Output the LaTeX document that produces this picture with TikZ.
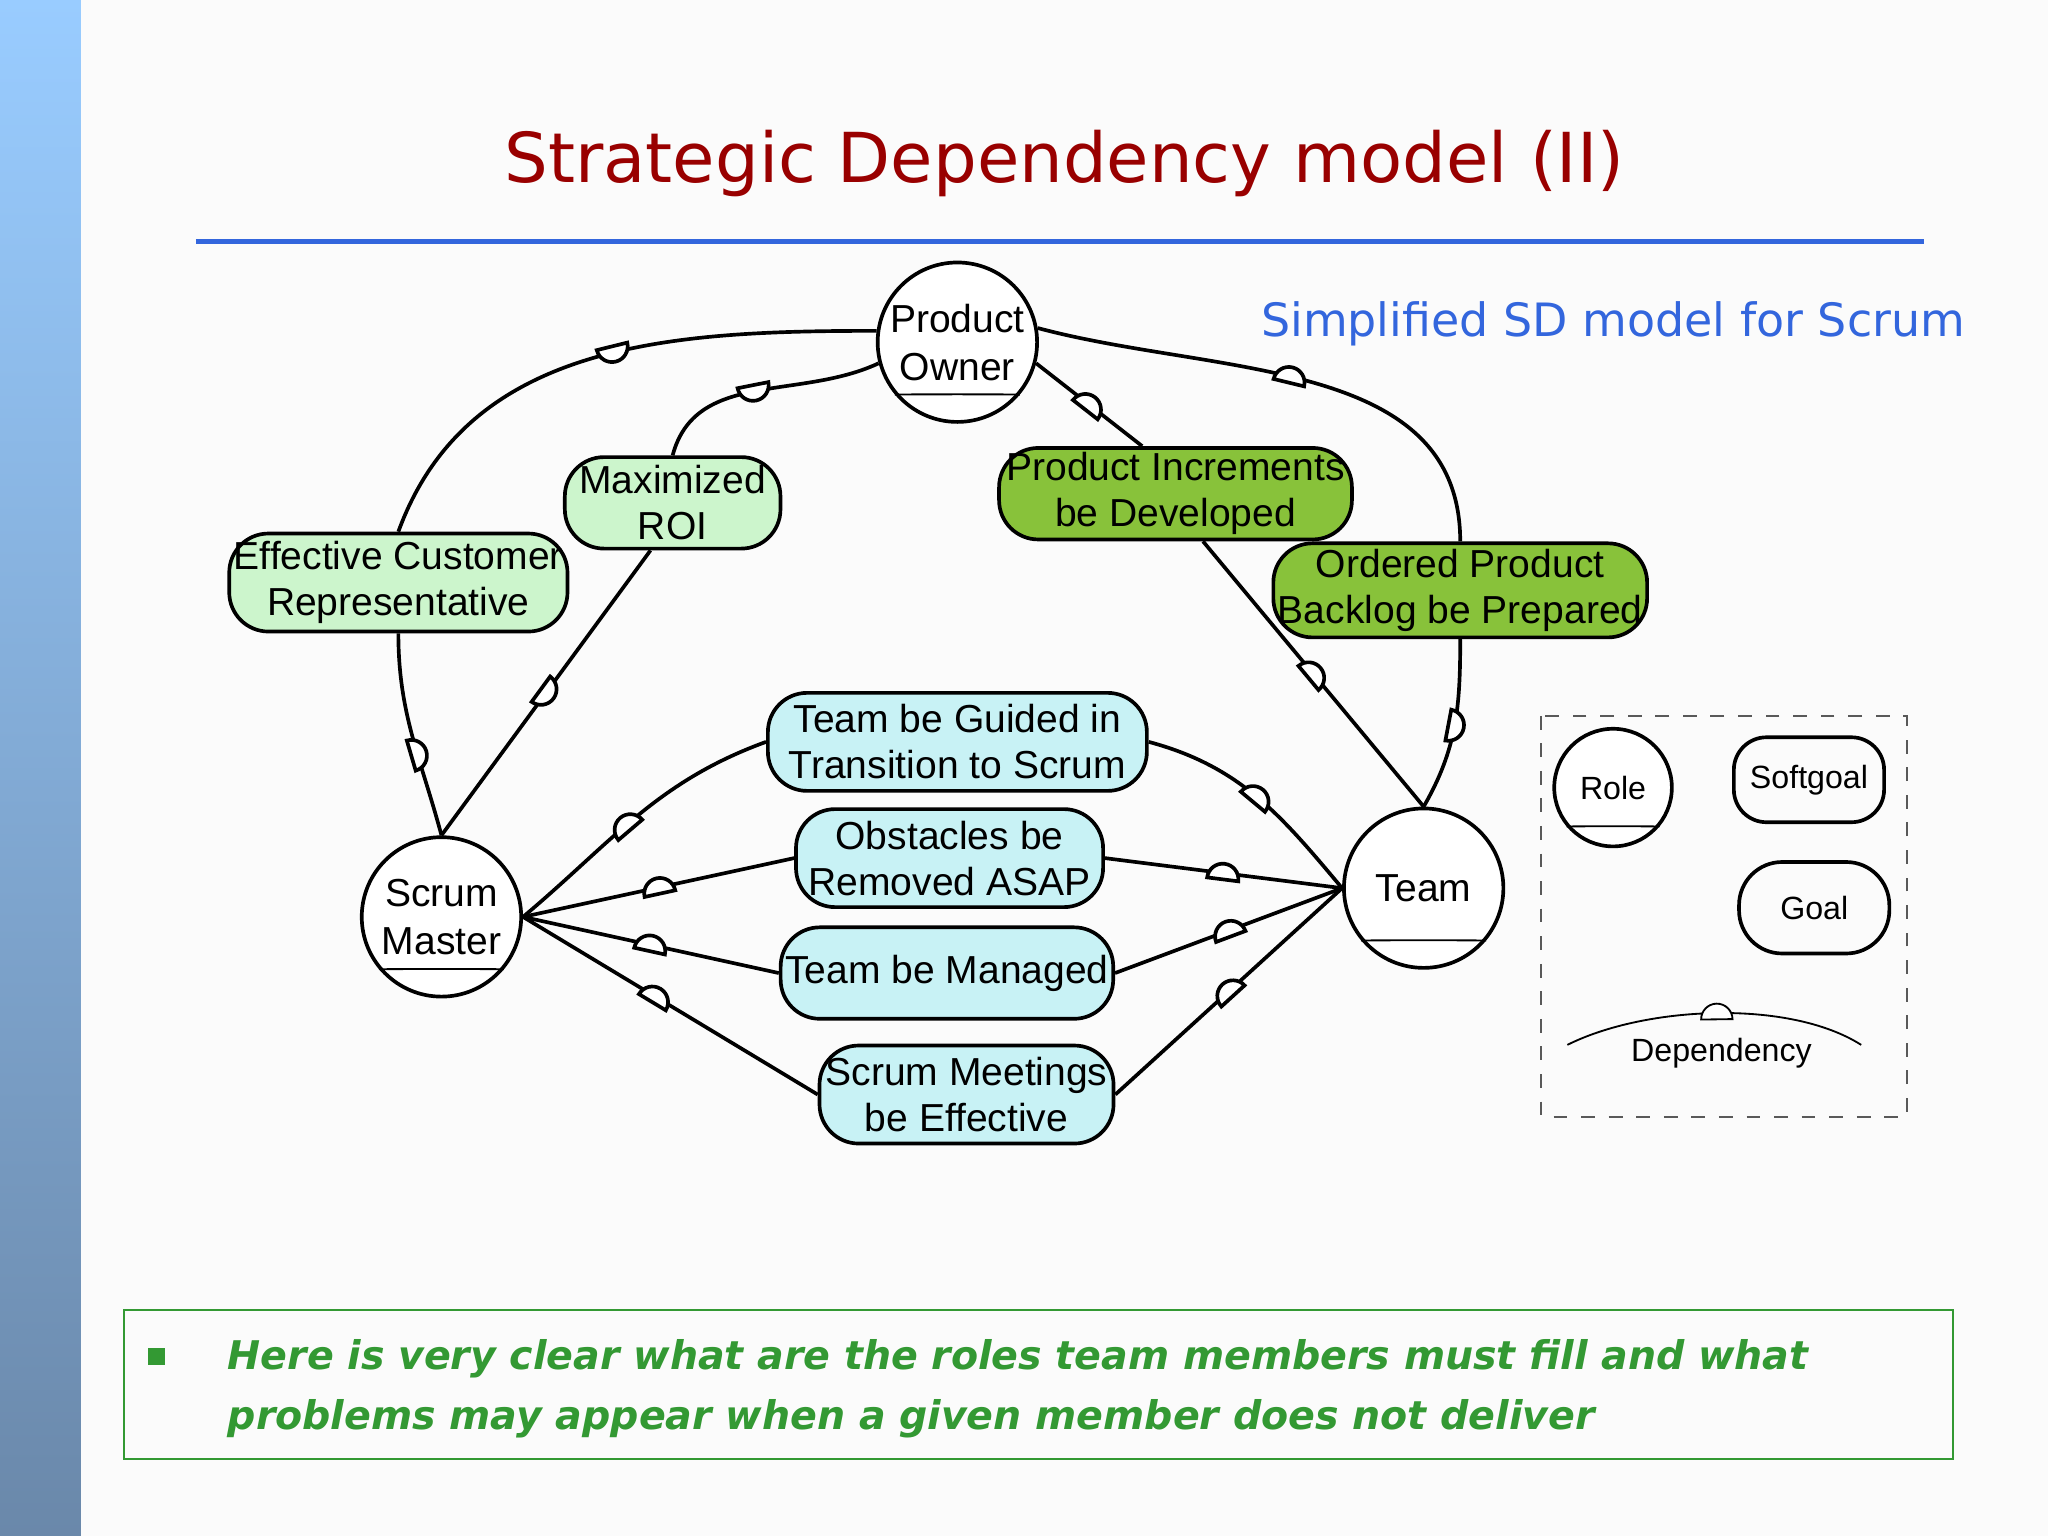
\documentclass[tikz,border=0pt]{standalone}
\usepackage{fontspec}
\setmainfont{Liberation Sans}
\newfontfamily\slidefont{DejaVu Sans}
\usetikzlibrary{shapes.geometric}
\definecolor{titlered}{HTML}{990000}
\definecolor{lineblue}{HTML}{3366DD}
\definecolor{softg}{HTML}{CCF5CC}
\definecolor{goalg}{HTML}{88C23A}
\definecolor{cyang}{HTML}{C8F2F5}
\definecolor{textgreen}{HTML}{339933}
\definecolor{bartop}{HTML}{99CCFF}
\definecolor{barbot}{HTML}{6A88AA}
\tikzset{
  x=0.01cm, y=-0.01cm,
  actor/.style={circle, draw, thick, fill=white, minimum size=1.22cm, align=center, inner sep=0pt, font=\fontsize{8.5}{10.5}\selectfont},
  goal/.style={rounded corners=0.3cm, draw, thick, align=center, inner sep=1pt, font=\fontsize{8.5}{10}\selectfont},
  soft/.style={goal, fill=softg},
  hgoal/.style={goal, fill=goalg},
  tgoal/.style={goal, fill=cyang},
  link/.style={thick},
  dep/.style={semicircle, draw, fill=white, minimum size=0.12cm, inner sep=0pt, sloped, allow upside down},
}
\newcommand{\rolebar}[1]{\draw (#1.-140) .. controls +(0.15,-0.3) and +(-0.15,-0.3) .. (#1.-40);}
\begin{document}
\begin{tikzpicture}
\useasboundingbox (0,0) rectangle (1568,1176);
\fill[gray!3] (0,0) rectangle (1568,1176);
\shade[top color=bartop, bottom color=barbot] (0,0) rectangle (62,1176);
\node[text=titlered, font=\slidefont\fontsize{15}{18}\selectfont] (title) at (815,125) {Strategic Dependency model (II)};
\draw[lineblue, line width=1.2pt] (150,185) coordinate (l1) -- (1473,185) coordinate (l2);
\node[text=lineblue, font=\slidefont\fontsize{10}{12}\selectfont] (sub) at (1235,248) {Simplified SD model for Scrum};

% actors
\node[actor] (po) at (733,262) {Product\\Owner};
\node[actor] (sm) at (338,702) {Scrum\\Master};
\node[actor] (team) at (1090,680) {Team};
\rolebar{po}\rolebar{sm}\rolebar{team}

% goals
\node[soft, minimum width=2.5cm, minimum height=0.75cm] (ecr) at (305,446) {Effective Customer\\Representative};
\node[soft, minimum width=1.65cm, minimum height=0.7cm] (roi) at (515,385) {Maximized\\ROI};
\node[hgoal, minimum width=2.7cm, minimum height=0.7cm] (pi) at (900,378) {Product Increments\\be Developed};
\node[hgoal, minimum width=2.75cm, minimum height=0.72cm] (opb) at (1118,452) {Ordered Product\\Backlog be Prepared};
\node[tgoal, minimum width=2.9cm, minimum height=0.75cm] (tg) at (733,568) {Team be Guided in\\Transition to Scrum};
\node[tgoal, minimum width=2.35cm, minimum height=0.75cm] (ob) at (727,657) {Obstacles be\\Removed ASAP};
\node[tgoal, minimum width=2.5cm, minimum height=0.7cm] (tm) at (725,745) {Team be Managed};
\node[tgoal, minimum width=2.25cm, minimum height=0.75cm] (sme) at (740,838) {Scrum Meetings\\be Effective};

% dependencies
\draw[link] (po.172) to[out=180,in=70] node[dep,pos=0.45]{} (ecr.north);
\draw[link] (ecr.south) to[out=-90,in=105] node[dep,pos=0.6]{} (sm.north);
\draw[link] (po.195) to[out=205,in=75] node[dep,pos=0.5]{} (roi.north);
\draw[link] (roi.-115) -- node[dep,pos=0.5]{} (sm.north);
\draw[link] (po.-15) -- node[dep,pos=0.5]{} (pi.125);
\draw[link] (pi.-60) -- node[dep,pos=0.5]{} (team.north);
\draw[link] (po.10) to[out=-15,in=90] node[dep,pos=0.45]{} (opb.north);
\draw[link] (opb.south) to[out=-90,in=60] node[dep,pos=0.5]{} (team.north);
\draw[link] (sm.east) to[out=40,in=200] node[dep,pos=0.45]{} (tg.west);
\draw[link] (tg.east) to[out=-15,in=130] node[dep,pos=0.5]{} (team.west);
\draw[link] (sm.east) -- node[dep,pos=0.5]{} (ob.west);
\draw[link] (ob.east) -- node[dep,pos=0.5]{} (team.west);
\draw[link] (sm.east) -- node[dep,pos=0.5]{} (tm.west);
\draw[link] (tm.east) -- node[dep,pos=0.5]{} (team.west);
\draw[link] (sm.east) -- node[dep,pos=0.45]{} (sme.west);
\draw[link] (sme.east) -- node[dep,pos=0.5]{} (team.west);

% legend
\draw[dashed, gray!70!black] (1180,548) rectangle (1460,855);
\node[actor, minimum size=0.9cm, font=\fontsize{7}{8}\selectfont] (lrole) at (1235,603) {Role};
\rolebar{lrole}
\node[goal, rounded corners=0.25cm, minimum width=1.15cm, minimum height=0.65cm, font=\fontsize{7}{8}\selectfont] (lsoft) at (1385,597) {Softgoal};
\node[goal, rounded corners=0.33cm, minimum width=1.15cm, minimum height=0.7cm, font=\fontsize{7}{8}\selectfont] (lgoal) at (1389,695) {Goal};
\coordinate (la) at (1200,800);
\coordinate (lb) at (1425,800);
\draw (la) .. controls (1260,770) and (1370,765) .. node[dep,pos=0.5]{} (lb);
\node[font=\fontsize{7}{9}\selectfont] (ldep) at (1318,806) {Dependency};

% bottom box
\draw[textgreen, thin] (95,1003) rectangle (1495,1117);
\fill[textgreen] (113,1032) rectangle (126,1045);
\node[anchor=west, text=textgreen, align=left, font=\slidefont\bfseries\itshape\fontsize{8.6}{13}\selectfont] (note) at (162,1063)
  {Here is very clear what are the roles team members must fill and what\\problems may appear when a given member does not deliver};
\end{tikzpicture}
\end{document}
